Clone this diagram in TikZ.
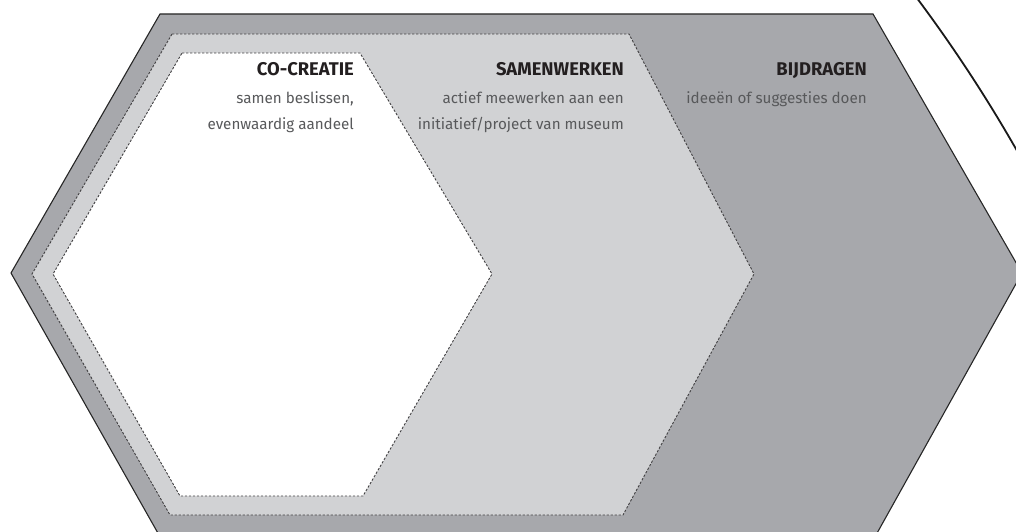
\documentclass[tikz,border=0pt]{standalone}
\usepackage{fontspec}
\setmainfont{Fira Sans}
\definecolor{outerg}{RGB}{167,168,172}
\definecolor{midg}{RGB}{209,210,212}
\definecolor{headc}{RGB}{35,31,32}
\definecolor{subc}{RGB}{88,89,91}
\definecolor{dashc}{RGB}{65,64,66}
\tikzset{
  outerhex/.style={fill=outerg, draw=black!85, line width=1.1pt, line join=miter},
  dashhex/.style={draw=dashc, line width=0.9pt, dash pattern=on 2.4pt off 1.6pt},
  head/.style={inner sep=0pt, anchor=base east, text=headc, font=\fontsize{18.4}{22}\selectfont\bfseries},
  sub/.style={inner sep=0pt, anchor=base east, text=subc, font=\fontsize{15.2}{18}\selectfont},
}
\begin{document}
\begin{tikzpicture}[x=1pt,y=-1pt]
\useasboundingbox (0,0) rectangle (1016,532);
\clip (0,0) rectangle (1016,532);
% outer hexagon
\path[outerhex] (160,14) -- (873,14) -- (1022,273) -- (876,535) -- (159,535) -- (11,273) -- cycle;
% middle hexagon
\path[dashhex, fill=midg] (172,34) -- (629,34) -- (754,274) -- (623,515) -- (170,515) -- (32,274) -- cycle;
% inner hexagon
\path[dashhex, fill=white] (182,53) -- (360,53) -- (492,274) -- (363,496) -- (180,496) -- (53,274) -- cycle;
% arc
\draw[line width=1.8pt, black!90] (-266,881) circle[radius=1476];
% texts
\node[head] (cch) at (354,76) {CO-CREATIE};
\node[sub] (cc1) at (354,104) {samen beslissen,};
\node[sub] (cc2) at (354,129) {evenwaardig aandeel};
\node[head] (swh) at (624,76) {SAMENWERKEN};
\node[sub] (sw1) at (624,104) {actief meewerken aan een};
\node[sub] (sw2) at (624,129) {initiatief/project van museum};
\node[head] (bdh) at (867,76) {BIJDRAGEN};
\node[sub] (bd1) at (867,103) {ideeën of suggesties doen};
\end{tikzpicture}
\end{document}
